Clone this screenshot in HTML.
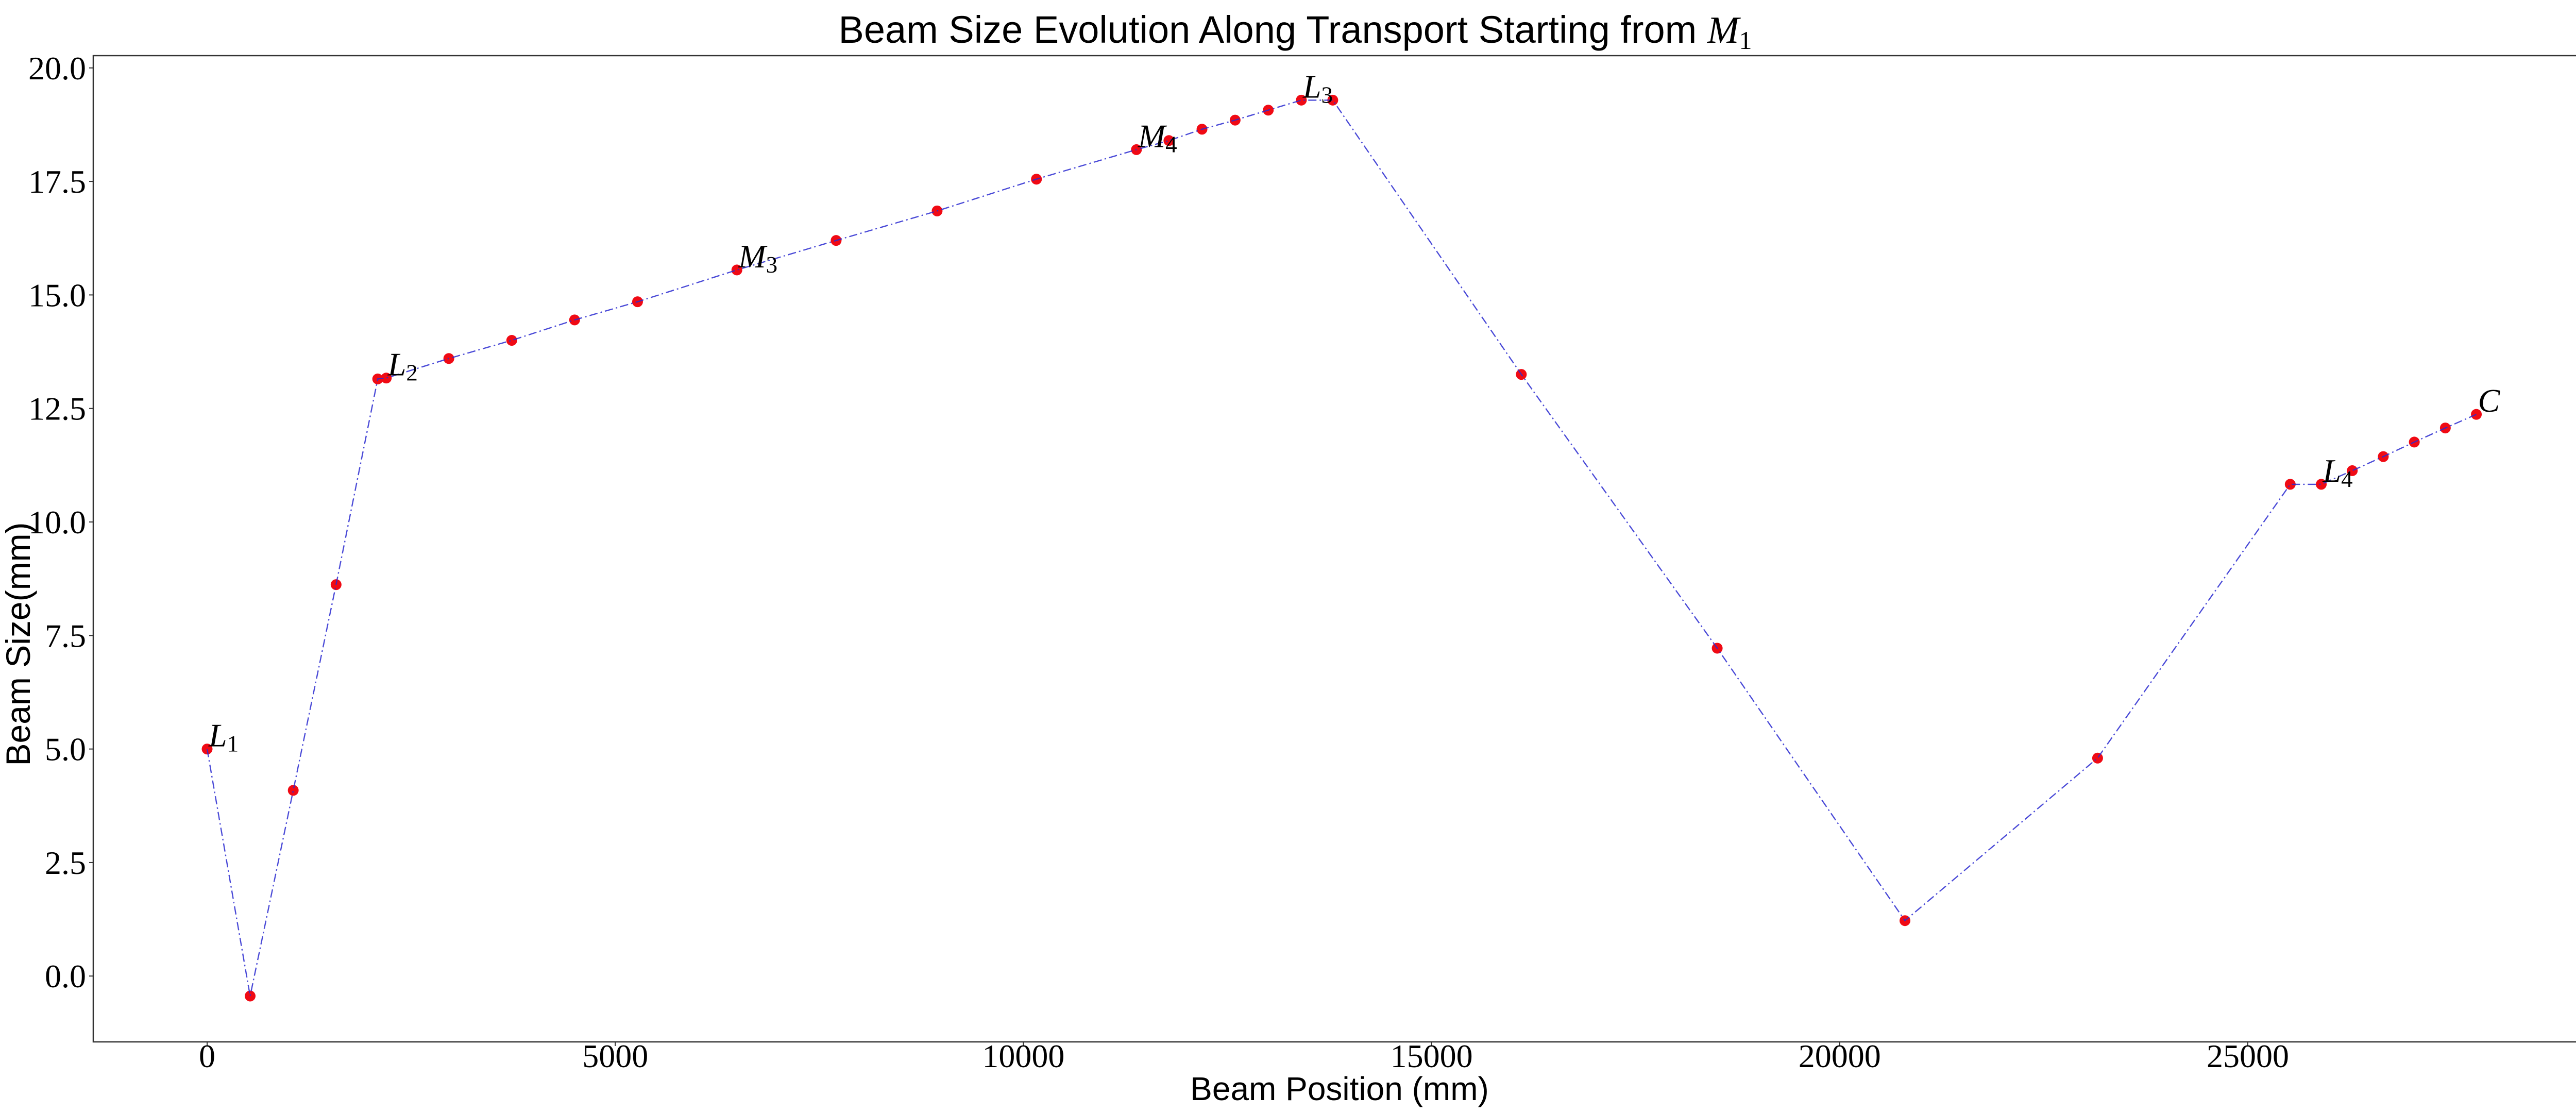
<!DOCTYPE html>
<html><head><meta charset="utf-8"><style>
html,body{margin:0;padding:0;background:#fff;}
svg{display:block;}
</style></head><body>
<svg id="chart" width="5040" height="2160" xmlns="http://www.w3.org/2000/svg">
<rect x="0" y="0" width="5040" height="2160" fill="#fff"/>
<text x="2514" y="83" text-anchor="middle" font-family="Liberation Sans, sans-serif" font-size="74">Beam Size Evolution Along Transport Starting from <tspan font-family="Liberation Serif, serif" font-style="italic">M</tspan><tspan font-family="Liberation Serif, serif" font-size="50" dy="12">1</tspan></text>
<g id="plot"></g>
<text x="2600" y="2135" text-anchor="middle" font-family="Liberation Sans, sans-serif" font-size="64">Beam Position (mm)</text>
<text transform="translate(58,1250) rotate(-90)" text-anchor="middle" font-family="Liberation Sans, sans-serif" font-size="66">Beam Size(mm)</text>
</svg>
<script>
const positions = [0,527,1055,1580,2090,2195,2961,3732,4502,5273,6490,7706,8943,10160,11385,11783,12188,12594,13000,13405,13790,16100,18500,20800,23160,25520,25900,26280,26660,27040,27420,27800];
const sizes = [5.0,-0.44,4.09,8.62,13.15,13.17,13.6,14.0,14.45,14.85,15.55,16.2,16.85,17.55,18.2,18.4,18.65,18.85,19.07,19.29,19.29,13.25,7.22,1.22,4.8,10.83,10.83,11.13,11.44,11.76,12.07,12.37];
const labelIndex = [0,5,10,14,19,26,31];
const labelMain = ['L','L','M','M','L','L','C'];
const labelSub = ['1','2','3','4','3','4',''];
const xTicks = [0,5000,10000,15000,20000,25000];
const yTicks = [0.0,2.5,5.0,7.5,10.0,12.5,15.0,17.5,20.0];

const L=181,R=5026,T=108,B=2022;
const xMin=-1395,xMax=29185,yMin=-1.45,yMax=20.27;
function sx(v){return L+(v-xMin)/(xMax-xMin)*(R-L);}
function sy(v){return B-(v-yMin)/(yMax-yMin)*(B-T);}
const NS='http://www.w3.org/2000/svg';
const g=document.getElementById('plot');
function mk(tag,attrs){const e=document.createElementNS(NS,tag);for(const k in attrs)e.setAttribute(k,attrs[k]);g.appendChild(e);return e;}

const frame=mk('rect',{x:L,y:T,width:R-L,height:B-T,fill:'none',stroke:'#333',"stroke-width":2.5});



xTicks.forEach(v=>{
  const t=mk('line',{x1:sx(v),x2:sx(v),y1:B,y2:B+8,stroke:'#333',"stroke-width":2});
  
  
  const lb=mk('text',{x:sx(v),y:2071,"text-anchor":'middle',"font-family":'Liberation Serif, serif',"font-size":64});
  lb.textContent=String(v);
  
  
});
yTicks.forEach(v=>{
  const t=mk('line',{x1:L-8,x2:L,y1:sy(v),y2:sy(v),stroke:'#333',"stroke-width":2});
  
  
  const lb=mk('text',{x:167,y:sy(v)+22,"text-anchor":'end',"font-family":'Liberation Serif, serif',"font-size":64});
  lb.textContent=v.toFixed(1);
  
  
});

positions.forEach((p,i)=>{
  const c=mk('ellipse',{cx:sx(p),cy:sy(sizes[i]),rx:10.5,ry:10.5,fill:'#f00a14'});
  
  
});
const pts=positions.map((p,i)=>sx(p).toFixed(1)+','+sy(sizes[i]).toFixed(1)).join(' ');
const line=mk('polyline',{points:pts,fill:'none',stroke:'#2a2ad0',"stroke-width":2.4,"stroke-dasharray":'16,6,3,6',"stroke-opacity":0.85});



labelIndex.forEach((idx,k)=>{
  const t=mk('text',{x:sx(positions[idx])+3,y:sy(sizes[idx])-5,"font-family":'Liberation Serif, serif',"font-size":64,"font-style":'italic'});
  t.textContent=labelMain[k];
  if(labelSub[k]){
    const s=document.createElementNS(NS,'tspan');
    s.setAttribute('font-style','normal');
    s.setAttribute('font-size','45');
    s.setAttribute('dy','10');
    s.textContent=labelSub[k];
    t.appendChild(s);
  }
  
  
});
</script>
</body></html>
